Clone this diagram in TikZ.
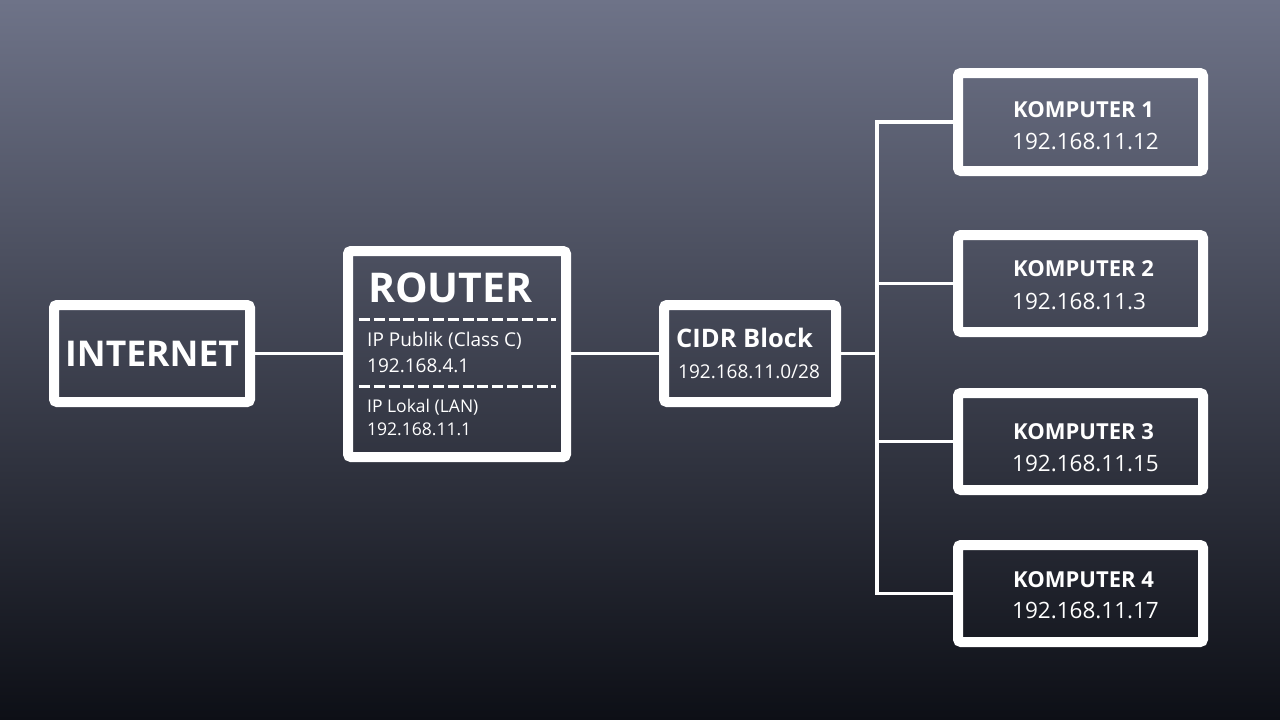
\documentclass[tikz,border=0pt]{standalone}
\usepackage{fontspec}
\setmainfont{Open Sans}
\definecolor{bgtop}{RGB}{110,115,136}
\definecolor{bgmid}{RGB}{59,63,77}
\definecolor{bgbot}{RGB}{13,15,22}
\tikzset{
  box/.style={draw=white, line width=10pt, rounded corners=3pt, inner sep=0pt, minimum width=#1},
  wire/.style={draw=white, line width=3.5pt, line join=miter},
  dashline/.style={draw=white, line width=3pt, dash pattern=on 11pt off 3.8pt},
  lbl/.style={text=white, inner sep=0pt, anchor=base west},
}
\begin{document}
\begin{tikzpicture}[x=1pt,y=-1pt]
\useasboundingbox (0,0) rectangle (1280,720);
\shade[top color=bgtop, middle color=bgmid, bottom color=bgbot] (0,0) rectangle (1280,720);

% boxes
\node[box=196pt, minimum height=97pt] (inet) at (152,353.5) {};
\node[box=218pt, minimum height=206pt] (router) at (457,354) {};
\node[box=172pt, minimum height=97pt] (cidr) at (750,353.5) {};
\node[box=245pt, minimum height=98pt] (k1) at (1080.5,122) {};
\node[box=245pt, minimum height=97pt] (k2) at (1080.5,283.5) {};
\node[box=245pt, minimum height=97pt] (k3) at (1080.5,441.5) {};
\node[box=245pt, minimum height=97pt] (k4) at (1080.5,593.5) {};

% texts
\node[lbl, font=\fontsize{35.5}{40}\selectfont\bfseries] (tinet) at (65,366) {INTERNET};
\node[lbl, font=\fontsize{41}{46}\selectfont\bfseries] (trouter) at (368,302) {ROUTER};
\node[lbl, font=\fontsize{19}{22}\selectfont] (tpub) at (367,346) {IP Publik (Class C)};
\node[lbl, font=\fontsize{19}{22}\selectfont] (tpubip) at (367,372) {192.168.4.1};
\node[lbl, font=\fontsize{17.5}{21}\selectfont] (tlok) at (367,412) {IP Lokal (LAN)};
\node[lbl, font=\fontsize{17.5}{21}\selectfont] (tlokip) at (367,435) {192.168.11.1};
\node[lbl, font=\fontsize{25.5}{30}\selectfont\bfseries] (tcidr) at (676,347) {CIDR Block};
\node[lbl, font=\fontsize{19}{23}\selectfont] (tcidrip) at (678,378) {192.168.11.0/28};

\node[lbl, font=\fontsize{22}{26}\selectfont\bfseries] (tk1) at (1013,117) {KOMPUTER 1};
\node[lbl, font=\fontsize{22.5}{27}\selectfont] (tk1ip) at (1012,149) {192.168.11.12};
\node[lbl, font=\fontsize{22}{26}\selectfont\bfseries] (tk2) at (1013,276) {KOMPUTER 2};
\node[lbl, font=\fontsize{22.5}{27}\selectfont] (tk2ip) at (1012,309) {192.168.11.3};
\node[lbl, font=\fontsize{22}{26}\selectfont\bfseries] (tk3) at (1013,439) {KOMPUTER 3};
\node[lbl, font=\fontsize{22.5}{27}\selectfont] (tk3ip) at (1012,471) {192.168.11.15};
\node[lbl, font=\fontsize{22}{26}\selectfont\bfseries] (tk4) at (1013,587) {KOMPUTER 4};
\node[lbl, font=\fontsize{22.5}{27}\selectfont] (tk4ip) at (1012,618) {192.168.11.17};

% dashed separators in router
\draw[dashline] (359,319) -- (556,319);
\draw[dashline] (359,386) -- (556,386);

% connectors
\coordinate (bus) at (877,353.5);
\draw[wire] (inet.east) -- (router.west |- inet.east);
\draw[wire] (router.east |- cidr.west) -- (cidr.west);
\draw[wire] (cidr.east) -- (bus);
\draw[wire] (k1.west) -| (bus) |- (k4.west);
\draw[wire] (k2.west) -- (k2.west -| bus);
\draw[wire] (k3.west) -- (k3.west -| bus);
\end{tikzpicture}
\end{document}
